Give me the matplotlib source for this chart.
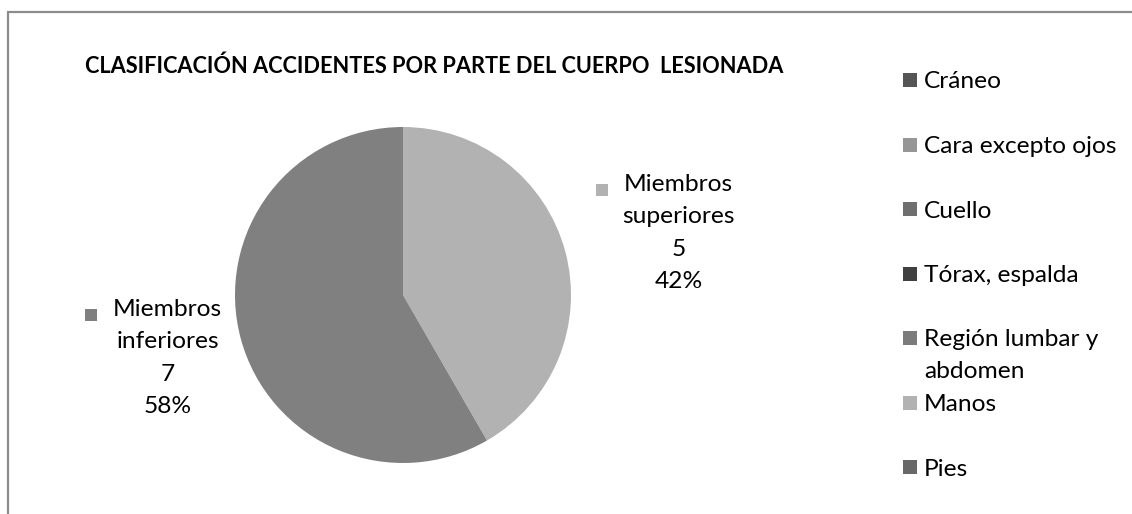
import numpy as np
import matplotlib
matplotlib.use("Agg")
import matplotlib.pyplot as plt
from matplotlib.patches import Rectangle

title = "CLASIFICACIÓN ACCIDENTES POR PARTE DEL CUERPO  LESIONADA"

slice_names = ["Miembros superiores", "Miembros inferiores"]
slice_values = [5, 7]
slice_colors = ["#b2b2b2", "#808080"]

legend_names = ["Cráneo", "Cara excepto ojos", "Cuello", "Tórax, espalda",
                "Región lumbar y\nabdomen", "Manos", "Pies"]
legend_colors = ["#555555", "#969696", "#6f6f6f", "#404040",
                 "#7b7b7b", "#b2b2b2", "#686868"]

W, H = 1132, 514
plt.rcParams['font.family'] = ['Lato', 'DejaVu Sans']

fig = plt.figure(figsize=(W / 100, H / 100), dpi=100)
renderer = fig.canvas.get_renderer()


def px(x, y):
    # pixel position (from top left) -> figure fraction
    return x / W, 1 - y / H


def text_width(s, **kw):
    t = fig.text(0, 0, s, **kw)
    w = t.get_window_extent(renderer).width
    t.remove()
    return w


def square(x, y, size, color):
    # x, y = centre in pixels from top left
    fig.patches.append(Rectangle(px(x - size / 2, y + size / 2), size / W, size / H,
                                 transform=fig.transFigure, facecolor=color,
                                 edgecolor='none'))


# font size calibrated on the legend text width
FS = 18 * 192 / text_width("Cara excepto ojos", fontsize=18)
LS = 1.66

# outer chart border (top and left edges visible)
fig.patches.append(Rectangle(px(8, 700), 2, (700 - 12) / H, transform=fig.transFigure,
                             fill=False, edgecolor='#8c8c8c', lw=1.6))

# title
tfs = 18 * 698 / text_width(title, fontsize=18, fontweight='bold')
fig.text(*px(85, 73.5), title, fontsize=tfs, fontweight='bold', ha='left', va='baseline')

# pie
cx, cy, R = 403, 295, 168
ax = fig.add_axes([(cx - R) / W, 1 - (cy + R) / H, 2 * R / W, 2 * R / H])
wedges, _ = ax.pie(slice_values, colors=slice_colors, startangle=90, counterclock=False,
                   radius=1, wedgeprops=dict(linewidth=0))
ax.set_xlim(-1, 1)
ax.set_ylim(-1, 1)

total = sum(slice_values)
label_r = [1.68, 1.45]
label_nudge = [-2.3, 0.0]  # degrees
for w, name, v, col, r, nd in zip(wedges, slice_names, slice_values, slice_colors,
                                  label_r, label_nudge):
    ang = np.deg2rad((w.theta1 + w.theta2) / 2 + nd)
    txt = name.replace(" ", "\n") + f"\n{v}\n{v / total:.0%}"
    t = ax.text(r * np.cos(ang), r * np.sin(ang), txt, ha='center', va='center',
                multialignment='center', fontsize=FS, linespacing=LS, clip_on=False)
    bb = t.get_window_extent(renderer)
    first = name.split(" ")[0]
    w1 = text_width(first, fontsize=FS)
    left = (bb.x0 + bb.x1) / 2 - w1 / 2
    square(left - 22, H - bb.y1 + 16, 12, col)

# legend
for i, (name, col) in enumerate(zip(legend_names, legend_colors)):
    yc = 80 + 64.5 * i
    square(910, yc, 14, col)
    for j, line in enumerate(name.split("\n")):
        fig.text(*px(924, yc + 32 * j + 8.5), line, fontsize=FS, ha='left', va='baseline')

fig.savefig("out.png", dpi=100)
